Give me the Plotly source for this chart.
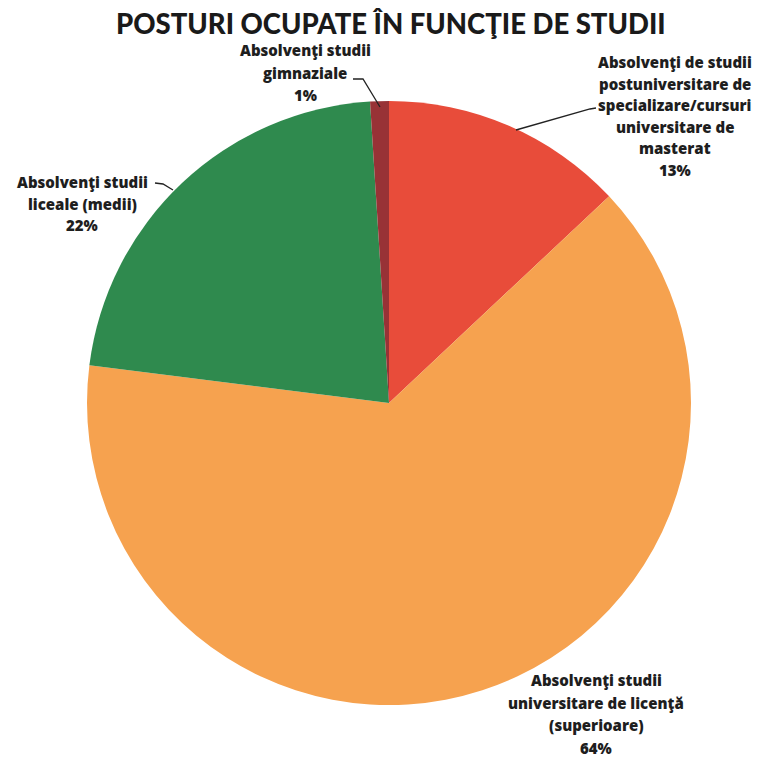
import plotly.graph_objects as go

W, H = 762, 757
OFF = 8  # marginea implicita a paginii

# date
categorii = [
    "Absolvenţi de studii postuniversitare de specializare/cursuri universitare de masterat",
    "Absolvenţi studii universitare de licenţă (superioare)",
    "Absolvenţi studii liceale (medii)",
    "Absolvenţi studii gimnaziale",
]
valori = [13, 64, 22, 1]
culori = ["#E84C3A", "#F6A24F", "#2F8A4E", "#983236"]

# etichete (liniile textului)
etichete = [
    ["Absolvenţi de studii", "postuniversitare de", "specializare/cursuri",
     "universitare de", "masterat", "13%"],
    ["Absolvenţi studii", "universitare de licenţă", "(superioare)", "64%"],
    ["Absolvenţi studii", "liceale (medii)", "22%"],
    ["Absolvenţi studii", "gimnaziale", "1%"],
]

FW, FH = W - OFF, H - OFF


def px(x, y):
    return (x - OFF) / FW, 1 - (y - OFF) / FH


cx, cy, r = 389, 403, 302
x0, _ = px(cx - r, 0)
x1, _ = px(cx + r, 0)
_, y0 = px(0, cy + r)
_, y1 = px(0, cy - r)

fig = go.Figure()
fig.add_trace(go.Pie(
    labels=categorii,
    values=valori,
    marker=dict(colors=culori),
    sort=False,
    direction="clockwise",
    rotation=0,
    textinfo="none",
    hoverinfo="label+percent",
    domain=dict(x=[x0, x1], y=[y0, y1]),
    showlegend=False,
))

# pozitia etichetelor: centru x, y prima linie, pas
pozitii = [(675, 62, 21.6), (596, 680, 22.7), (82, 182, 21.5), (305, 50, 22.5)]
font = dict(family="'Open Sans', sans-serif", size=15, color="#1e1e1e", weight=800)

for linii, (lx, ly, pas) in zip(etichete, pozitii):
    for i, t in enumerate(linii):
        ax, ay = px(lx, ly + i * pas)
        fig.add_annotation(x=ax, y=ay, xref="paper", yref="paper", text=t,
                           showarrow=False, xanchor="center", yanchor="middle", font=font)

# linii de legatura
ghidaje = [
    [(596, 108), (590, 109), (516, 130)],
    [(155, 183), (163, 184), (173, 190)],
    [(353, 79), (363, 79), (380, 107)],
]
for pts in ghidaje:
    path = ""
    for j, (a, b) in enumerate(pts):
        ux, uy = px(a, b)
        path += ("M" if j == 0 else "L") + " %f %f " % (ux, uy)
    fig.add_shape(type="path", path=path, xref="paper", yref="paper",
                  line=dict(color="#222222", width=1.3))

tx, ty = px(391, 23.5)
fig.add_annotation(x=tx, y=ty, xref="paper", yref="paper",
                   text="POSTURI OCUPATE ÎN FUNCŢIE DE STUDII",
                   showarrow=False, xanchor="center", yanchor="middle",
                   font=dict(family="Lato, 'Open Sans', sans-serif", size=27.5,
                             color="#1a1a1a", weight=900))

fig.update_layout(
    width=FW, height=FH,
    margin=dict(l=0, r=0, t=0, b=0),
    paper_bgcolor="white",
    plot_bgcolor="white",
)

fig.write_html("out.html")
